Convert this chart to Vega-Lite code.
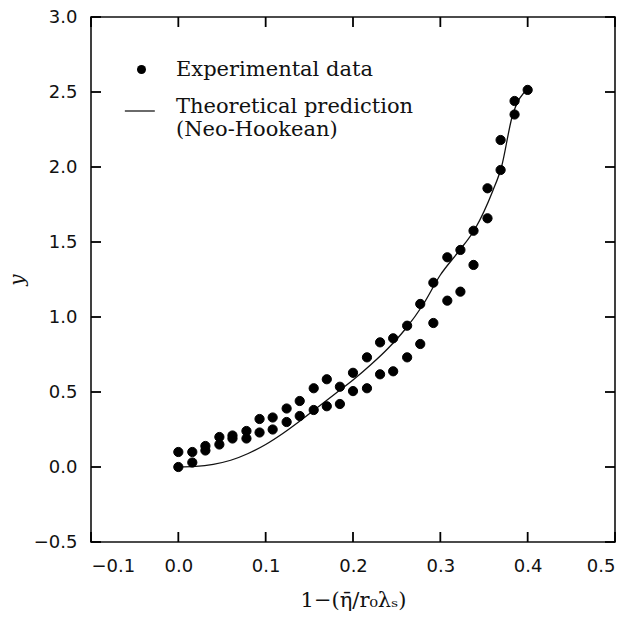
{
  "$schema": "https://vega.github.io/schema/vega-lite/v6.json",
  "width": 524,
  "height": 525,
  "autosize": "none",
  "padding": {"left": 91, "top": 17, "right": 16, "bottom": 95},
  "background": "white",
  "config": {
    "view": {"stroke": "#111", "strokeWidth": 1.6},
    "axis": {
      "grid": false,
      "domain": false,
      "ticks": false,
      "labelFont": "DejaVu Sans",
      "labelFontSize": 18,
      "labelColor": "#111",
      "titleFont": "DejaVu Serif",
      "titleColor": "#111",
      "titleFontWeight": "normal"
    }
  },
  "datasets": {
    "exp": [
      {"x": 0.000, "y": 0.10, "series": "Experimental data"},
      {"x": 0.000, "y": 0.00, "series": "Experimental data"},
      {"x": 0.016, "y": 0.10, "series": "Experimental data"},
      {"x": 0.016, "y": 0.03, "series": "Experimental data"},
      {"x": 0.031, "y": 0.14, "series": "Experimental data"},
      {"x": 0.031, "y": 0.11, "series": "Experimental data"},
      {"x": 0.047, "y": 0.20, "series": "Experimental data"},
      {"x": 0.047, "y": 0.15, "series": "Experimental data"},
      {"x": 0.062, "y": 0.21, "series": "Experimental data"},
      {"x": 0.062, "y": 0.19, "series": "Experimental data"},
      {"x": 0.078, "y": 0.24, "series": "Experimental data"},
      {"x": 0.078, "y": 0.19, "series": "Experimental data"},
      {"x": 0.093, "y": 0.32, "series": "Experimental data"},
      {"x": 0.093, "y": 0.23, "series": "Experimental data"},
      {"x": 0.108, "y": 0.33, "series": "Experimental data"},
      {"x": 0.108, "y": 0.25, "series": "Experimental data"},
      {"x": 0.124, "y": 0.39, "series": "Experimental data"},
      {"x": 0.124, "y": 0.30, "series": "Experimental data"},
      {"x": 0.139, "y": 0.44, "series": "Experimental data"},
      {"x": 0.139, "y": 0.34, "series": "Experimental data"},
      {"x": 0.155, "y": 0.525, "series": "Experimental data"},
      {"x": 0.155, "y": 0.38, "series": "Experimental data"},
      {"x": 0.170, "y": 0.585, "series": "Experimental data"},
      {"x": 0.170, "y": 0.405, "series": "Experimental data"},
      {"x": 0.185, "y": 0.535, "series": "Experimental data"},
      {"x": 0.185, "y": 0.42, "series": "Experimental data"},
      {"x": 0.200, "y": 0.628, "series": "Experimental data"},
      {"x": 0.200, "y": 0.506, "series": "Experimental data"},
      {"x": 0.216, "y": 0.731, "series": "Experimental data"},
      {"x": 0.216, "y": 0.525, "series": "Experimental data"},
      {"x": 0.231, "y": 0.831, "series": "Experimental data"},
      {"x": 0.231, "y": 0.618, "series": "Experimental data"},
      {"x": 0.246, "y": 0.858, "series": "Experimental data"},
      {"x": 0.246, "y": 0.638, "series": "Experimental data"},
      {"x": 0.262, "y": 0.942, "series": "Experimental data"},
      {"x": 0.262, "y": 0.731, "series": "Experimental data"},
      {"x": 0.277, "y": 1.087, "series": "Experimental data"},
      {"x": 0.277, "y": 0.82, "series": "Experimental data"},
      {"x": 0.292, "y": 1.229, "series": "Experimental data"},
      {"x": 0.292, "y": 0.96, "series": "Experimental data"},
      {"x": 0.308, "y": 1.398, "series": "Experimental data"},
      {"x": 0.308, "y": 1.109, "series": "Experimental data"},
      {"x": 0.323, "y": 1.447, "series": "Experimental data"},
      {"x": 0.323, "y": 1.169, "series": "Experimental data"},
      {"x": 0.338, "y": 1.575, "series": "Experimental data"},
      {"x": 0.338, "y": 1.347, "series": "Experimental data"},
      {"x": 0.354, "y": 1.858, "series": "Experimental data"},
      {"x": 0.354, "y": 1.658, "series": "Experimental data"},
      {"x": 0.369, "y": 2.18, "series": "Experimental data"},
      {"x": 0.369, "y": 1.98, "series": "Experimental data"},
      {"x": 0.385, "y": 2.44, "series": "Experimental data"},
      {"x": 0.385, "y": 2.35, "series": "Experimental data"},
      {"x": 0.400, "y": 2.514, "series": "Experimental data"}
    ],
    "theory": [
      {"x": 0.000, "y": 0.000},
      {"x": 0.020, "y": 0.004},
      {"x": 0.040, "y": 0.018},
      {"x": 0.060, "y": 0.045},
      {"x": 0.080, "y": 0.090},
      {"x": 0.100, "y": 0.150},
      {"x": 0.120, "y": 0.225},
      {"x": 0.140, "y": 0.310},
      {"x": 0.160, "y": 0.400},
      {"x": 0.180, "y": 0.490},
      {"x": 0.200, "y": 0.580},
      {"x": 0.220, "y": 0.680},
      {"x": 0.240, "y": 0.790},
      {"x": 0.260, "y": 0.920},
      {"x": 0.280, "y": 1.080},
      {"x": 0.300, "y": 1.280},
      {"x": 0.320, "y": 1.430},
      {"x": 0.340, "y": 1.590},
      {"x": 0.360, "y": 1.840},
      {"x": 0.370, "y": 2.000},
      {"x": 0.382, "y": 2.330},
      {"x": 0.400, "y": 2.520}
    ],
    "xticks": [
      {"v": -0.1, "edge": -0.5}, {"v": 0.0, "edge": -0.5}, {"v": 0.1, "edge": -0.5}, {"v": 0.2, "edge": -0.5},
      {"v": 0.3, "edge": -0.5}, {"v": 0.4, "edge": -0.5}, {"v": 0.5, "edge": -0.5},
      {"v": -0.1, "edge": 3.0}, {"v": 0.0, "edge": 3.0}, {"v": 0.1, "edge": 3.0}, {"v": 0.2, "edge": 3.0},
      {"v": 0.3, "edge": 3.0}, {"v": 0.4, "edge": 3.0}, {"v": 0.5, "edge": 3.0}
    ],
    "yticks": [
      {"v": -0.5, "edge": -0.1}, {"v": 0.0, "edge": -0.1}, {"v": 0.5, "edge": -0.1}, {"v": 1.0, "edge": -0.1},
      {"v": 1.5, "edge": -0.1}, {"v": 2.0, "edge": -0.1}, {"v": 2.5, "edge": -0.1}, {"v": 3.0, "edge": -0.1},
      {"v": -0.5, "edge": 0.5}, {"v": 0.0, "edge": 0.5}, {"v": 0.5, "edge": 0.5}, {"v": 1.0, "edge": 0.5},
      {"v": 1.5, "edge": 0.5}, {"v": 2.0, "edge": 0.5}, {"v": 2.5, "edge": 0.5}, {"v": 3.0, "edge": 0.5}
    ]
  },
  "layer": [
    {
      "data": {"name": "theory"},
      "mark": {"type": "line", "color": "#111", "strokeWidth": 1.3, "interpolate": "monotone"},
      "encoding": {
        "x": {
          "field": "x", "type": "quantitative",
          "scale": {"domain": [-0.1, 0.5], "nice": false, "zero": false},
          "axis": {
            "values": [-0.1, 0, 0.1, 0.2, 0.3, 0.4, 0.5],
            "format": ".1f",
            "labelPadding": 15,
            "title": "1−(η̄/r₀λₛ)",
            "titleFontSize": 21,
            "titlePadding": 14
          }
        },
        "y": {
          "field": "y", "type": "quantitative",
          "scale": {"domain": [-0.5, 3.0], "nice": false, "zero": false},
          "axis": {
            "values": [-0.5, 0, 0.5, 1, 1.5, 2, 2.5, 3],
            "format": ".1f",
            "labelPadding": 14,
            "title": "y",
            "titleFontStyle": "italic",
            "titleFontSize": 20,
            "titlePadding": 6
          }
        }
      }
    },
    {
      "data": {"name": "xticks"},
      "transform": [{"filter": "datum.edge < 0"}],
      "mark": {"type": "point", "shape": "M-0.09,0H0.09V-1H-0.09Z", "filled": true, "color": "#000", "size": 400, "opacity": 1, "strokeWidth": 0},
      "encoding": {
        "x": {"field": "v", "type": "quantitative", "axis": null},
        "y": {"field": "edge", "type": "quantitative", "axis": null}
      }
    },
    {
      "data": {"name": "xticks"},
      "transform": [{"filter": "datum.edge > 0"}],
      "mark": {"type": "point", "shape": "M-0.09,0H0.09V1H-0.09Z", "filled": true, "color": "#000", "size": 400, "opacity": 1, "strokeWidth": 0},
      "encoding": {
        "x": {"field": "v", "type": "quantitative", "axis": null},
        "y": {"field": "edge", "type": "quantitative", "axis": null}
      }
    },
    {
      "data": {"name": "yticks"},
      "transform": [{"filter": "datum.edge < 0"}],
      "mark": {"type": "point", "shape": "M0,-0.09H1V0.09H0Z", "filled": true, "color": "#000", "size": 400, "opacity": 1, "strokeWidth": 0},
      "encoding": {
        "y": {"field": "v", "type": "quantitative", "axis": null},
        "x": {"field": "edge", "type": "quantitative", "axis": null}
      }
    },
    {
      "data": {"name": "yticks"},
      "transform": [{"filter": "datum.edge > 0"}],
      "mark": {"type": "point", "shape": "M0,-0.09H-1V0.09H0Z", "filled": true, "color": "#000", "size": 400, "opacity": 1, "strokeWidth": 0},
      "encoding": {
        "y": {"field": "v", "type": "quantitative", "axis": null},
        "x": {"field": "edge", "type": "quantitative", "axis": null}
      }
    },
    {
      "data": {"name": "exp"},
      "mark": {"type": "point", "filled": true, "color": "#000", "stroke": "#000", "strokeWidth": 1, "size": 85, "opacity": 1},
      "encoding": {
        "x": {"field": "x", "type": "quantitative", "axis": null},
        "y": {"field": "y", "type": "quantitative", "axis": null},
        "shape": {
          "field": "series", "type": "nominal",
          "scale": {"domain": ["Experimental data", "Theoretical prediction"], "range": ["circle", "M-3.7,0.87H2.96V1.13H-3.7Z"]},
          "legend": {
            "orient": "none",
            "legendX": 40,
            "legendY": 42,
            "title": null,
            "padding": 0,
            "labelFont": "DejaVu Serif",
            "labelFontSize": 21,
            "labelColor": "#111",
            "labelOffset": 24,
            "labelLimit": 400,
            "symbolSize": 81,
            "symbolFillColor": "#000",
            "symbolStrokeColor": "#000",
            "symbolStrokeWidth": 1,
            "rowPadding": 15,
            "labelExpr": "datum.label == 'Theoretical prediction' ? ['Theoretical prediction', '(Neo-Hookean)'] : datum.label"
          }
        }
      }
    }
  ],
  "resolve": {"axis": {"x": "independent", "y": "independent"}}
}
